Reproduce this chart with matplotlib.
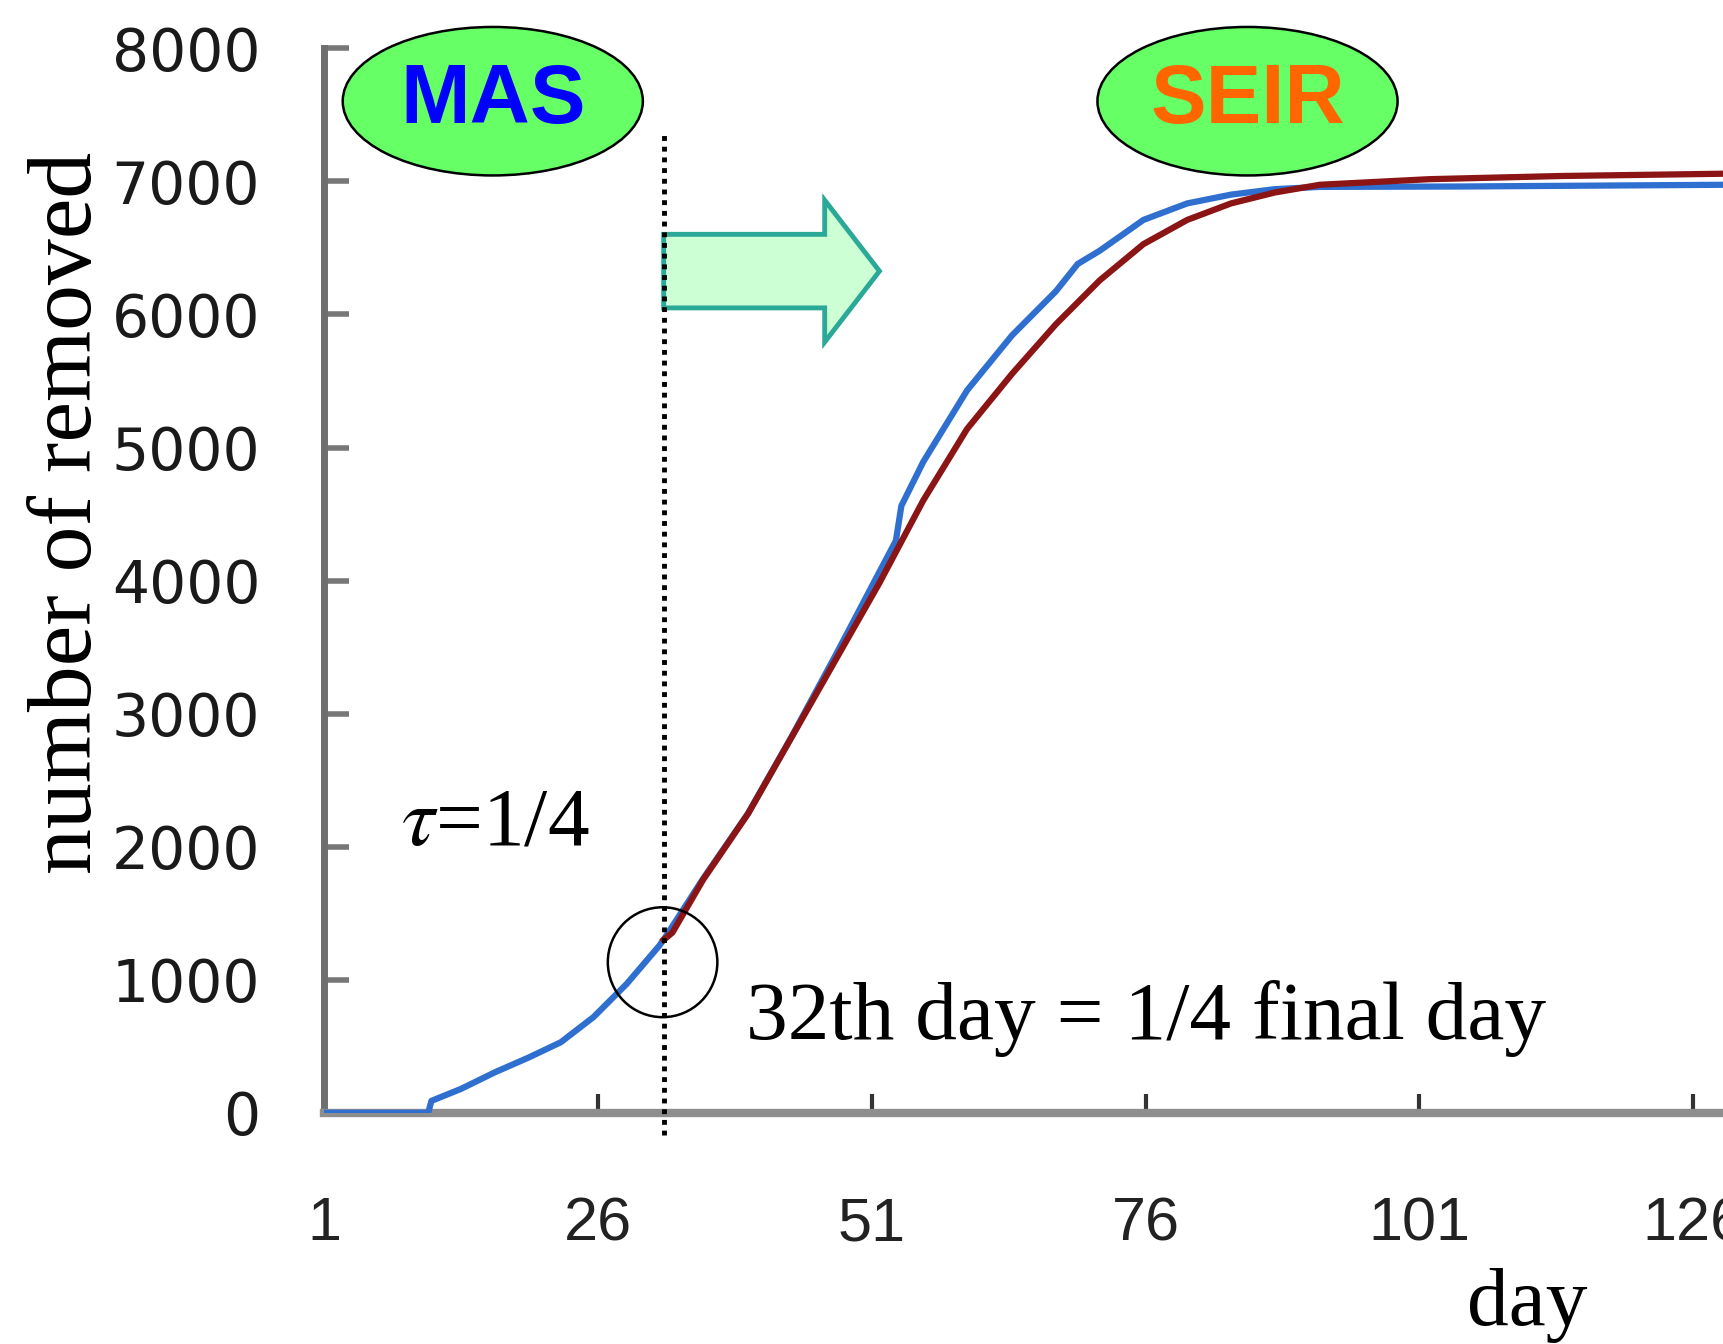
import matplotlib.pyplot as plt
from matplotlib.patches import Ellipse, FancyArrow
import numpy as np

# MAS (blue)
mas_day = [1, 10.5, 10.8, 13.5, 16.6, 19.6, 22.6, 25.6, 28.6, 31.6, 32.3, 35.6, 39.7,
           43.7, 47.7, 51.7, 53.2, 53.7, 55.7, 59.7, 63.8, 67.8, 69.8, 71.8, 75.8,
           79.8, 83.8, 87.8, 91.9, 104.9, 128.8]
mas_val = [0, 0, 90, 180, 305, 413, 530, 720, 967, 1256, 1339, 1760, 2250,
           2830, 3440, 4066, 4300, 4562, 4893, 5430, 5843, 6174, 6380, 6479, 6711,
           6835, 6901, 6942, 6959, 6962, 6975]

# SEIR (red), starts at day 32
seir_day = [32.0, 32.8, 35.6, 39.7, 43.7, 47.7, 51.7, 55.7, 59.7, 63.8, 67.8, 71.8,
            75.8, 79.8, 83.8, 87.8, 91.9, 101.9, 114.0, 128.8]
seir_val = [1300, 1355, 1752, 2248, 2826, 3405, 3983, 4603, 5140, 5554, 5926, 6256,
            6529, 6711, 6835, 6917, 6975, 7017, 7041, 7058]

x_ticks = [1, 26, 51, 76, 101, 126]
y_ticks = [0, 1000, 2000, 3000, 4000, 5000, 6000, 7000, 8000]
switch_day = 32

plt.rcParams['mathtext.fontset'] = 'stix'

fig = plt.figure(figsize=(17.24, 13.44), dpi=100)
ax = fig.add_axes([0.188, 0.172, 0.812, 0.792])

ax.plot(mas_day, mas_val, color='#2e6fd0', lw=4.5, zorder=3)
ax.plot(seir_day, seir_val, color='#8b1414', lw=4.5, zorder=4)

ax.set_xlim(1, 128.8)
ax.set_ylim(0, 8000)

for s in ['top', 'right']:
    ax.spines[s].set_visible(False)
ax.spines['left'].set_color('#6e6e6e')
ax.spines['left'].set_linewidth(5)
ax.spines['bottom'].set_color('#8e8e8e')
ax.spines['bottom'].set_linewidth(6)

ax.set_xticks(x_ticks)
ax.set_yticks(y_ticks)
ax.tick_params(axis='y', direction='in', length=18, width=4, color='#777777', pad=46)
ax.tick_params(axis='x', direction='in', length=14, width=3, color='#333333', pad=60)
for t in ax.get_yticklabels():
    t.set_fontfamily('DejaVu Sans')
    t.set_fontsize(42)
    t.set_color('#1a1a1a')
for t in ax.get_xticklabels():
    t.set_fontfamily('Liberation Sans')
    t.set_fontsize(44)
    t.set_color('#222222')

# dotted line at the switch day
ax.plot([switch_day, switch_day], [-170, 7370], color='black', ls=(0, (1, 1.2)),
        lw=3.5, clip_on=False, zorder=5)

# circle around the switch point
ax.add_patch(Ellipse((31.9, 1132), 10.0, 826, fill=False, ec='black', lw=1.8,
                     zorder=6, clip_on=False))

# block arrow
ax.add_patch(FancyArrow(32, 6326, 19.7, 0, width=553, head_width=1066,
                        head_length=5, length_includes_head=True,
                        fc='#ccffd4', ec='#2aa898', lw=3.5, zorder=2))

# model labels
for cx, name, col in [(16.4, 'MAS', '#0000ff'), (85.3, 'SEIR', '#ff6600')]:
    ax.add_patch(Ellipse((cx, 7603), 27.4, 1116, fc='#66ff66', ec='black',
                         lw=1.8, clip_on=False, zorder=6))
    ax.text(cx, 7603, name, color=col, fontsize=60, fontweight='bold',
            family=['Liberation Sans Narrow', 'Liberation Sans'],
            ha='center', va='center', zorder=7)

ax.text(8.0, 2017, r'$\tau$=1/4', fontsize=60, family='Liberation Serif',
        va='baseline', ha='left')
ax.text(39.5, 554, '32th day = 1/4 final day', fontsize=60,
        family='Liberation Serif', va='baseline', ha='left')

fig.text(0.040, 0.618, 'number of removed', rotation=90, fontsize=66,
         family='Liberation Serif', ha='center', va='center')
fig.text(0.851, 0.014, 'day', fontsize=60, family='Liberation Serif',
         ha='left', va='baseline')

fig.savefig('out.png', dpi=100)
